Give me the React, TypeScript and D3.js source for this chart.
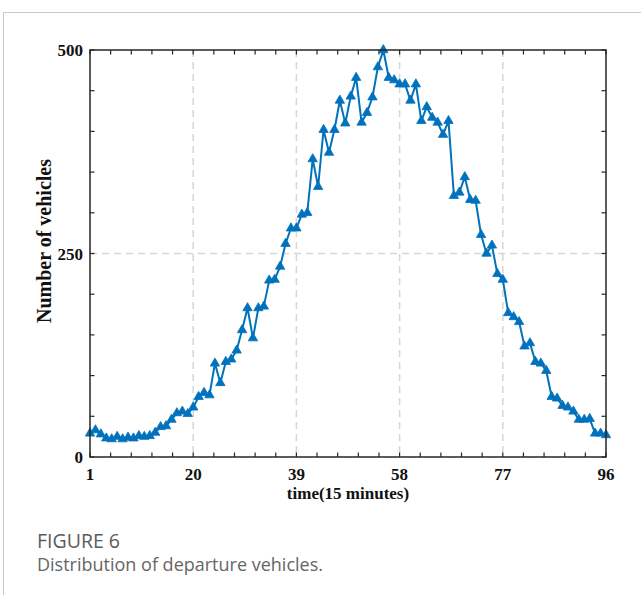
import React, { useEffect, useRef } from "react";
import * as d3 from "d3";

// Departing vehicles per 15-minute interval (96 intervals per day)
const intervals: number[] = d3.range(1, 97);
const vehicles: number[] = [
  29, 33, 28, 23, 22, 25, 22, 24, 23, 26,
  25, 26, 30, 37, 38, 46, 54, 56, 53, 61,
  74, 79, 76, 115, 91, 117, 120, 131, 156, 183,
  146, 183, 185, 217, 218, 234, 262, 281, 281, 298,
  300, 366, 332, 402, 374, 402, 438, 410, 443, 466,
  411, 423, 442, 479, 500, 466, 463, 458, 458, 438,
  458, 413, 430, 417, 411, 396, 413, 321, 325, 344,
  316, 315, 273, 250, 260, 225, 218, 177, 172, 166,
  136, 140, 117, 115, 106, 74, 72, 63, 61, 56,
  46, 46, 47, 29, 29, 27,
];
const xTicks: number[] = [1, 20, 39, 58, 77, 96];
const yTicks: number[] = [0, 250, 500];
const xGrid: number[] = [20, 39, 58, 77];
const yGrid: number[] = [250];

const W = 641;
const H = 595;
const plot = { left: 90, right: 606, top: 50, bottom: 457 };

export default function App() {
  const ref = useRef<SVGSVGElement | null>(null);

  useEffect(() => {
    const svg = d3.select(ref.current);
    svg.selectAll("*").remove();

    // card frame
    svg.append("line").attr("x1", 3.5).attr("x2", 3.5).attr("y1", 12.5).attr("y2", H)
      .attr("stroke", "#c8c8c8").attr("stroke-width", 1);
    svg.append("line").attr("x1", 3.5).attr("x2", W).attr("y1", 12.5).attr("y2", 12.5)
      .attr("stroke", "#c8c8c8").attr("stroke-width", 1);

    const x = d3.scaleLinear().domain([1, 96]).range([plot.left, plot.right]);
    const y = d3.scaleLinear().domain([0, 500]).range([plot.bottom, plot.top]);

    // grid
    const grid = svg.append("g").attr("stroke", "#d6d6d6").attr("stroke-width", 1.5)
      .attr("stroke-dasharray", "7,5");
    xGrid.forEach((v) => {
      grid.append("line").attr("x1", x(v)).attr("x2", x(v))
        .attr("y1", plot.top).attr("y2", plot.bottom);
    });
    yGrid.forEach((v) => {
      grid.append("line").attr("x1", plot.left).attr("x2", plot.right)
        .attr("y1", y(v)).attr("y2", y(v));
    });

    // minor ticks: 5 subdivisions between each labelled tick
    const xMinor: number[] = [];
    for (let i = 0; i < xTicks.length - 1; i++) {
      const a = xTicks[i], b = xTicks[i + 1];
      for (let k = 0; k < 5; k++) xMinor.push(a + ((b - a) * k) / 5);
    }
    xMinor.push(96);
    const yMinor: number[] = d3.range(0, 501, 50);

    const axisColor = "#262626";
    const tl = 4.5;
    const ticks = svg.append("g").attr("stroke", axisColor).attr("stroke-width", 1.2);
    xMinor.forEach((v) => {
      ticks.append("line").attr("x1", x(v)).attr("x2", x(v))
        .attr("y1", plot.bottom).attr("y2", plot.bottom - tl);
      ticks.append("line").attr("x1", x(v)).attr("x2", x(v))
        .attr("y1", plot.top).attr("y2", plot.top + tl);
    });
    yMinor.forEach((v) => {
      ticks.append("line").attr("x1", plot.left).attr("x2", plot.left + tl)
        .attr("y1", y(v)).attr("y2", y(v));
      ticks.append("line").attr("x1", plot.right).attr("x2", plot.right - tl)
        .attr("y1", y(v)).attr("y2", y(v));
    });

    // data line and triangle markers
    const line = d3.line<number>()
      .x((_, i) => x(intervals[i]))
      .y((d) => y(d));
    const color = "#0072BD";
    svg.append("path").datum(vehicles).attr("d", line)
      .attr("fill", "none").attr("stroke", color).attr("stroke-width", 2)
      .attr("stroke-linejoin", "round");
    const tri = d3.symbol().type(d3.symbolTriangle).size(38);
    svg.append("g").selectAll("path").data(vehicles).join("path")
      .attr("d", tri)
      .attr("transform", (d, i) => `translate(${x(intervals[i])},${y(d)})`)
      .attr("fill", color).attr("stroke", color).attr("stroke-width", 0.8);

    // box
    svg.append("rect").attr("x", plot.left).attr("y", plot.top)
      .attr("width", plot.right - plot.left).attr("height", plot.bottom - plot.top)
      .attr("fill", "none").attr("stroke", axisColor).attr("stroke-width", 1.5);

    const serif = "'Liberation Serif', 'Times New Roman', serif";
    // tick labels
    svg.append("g").selectAll("text").data(xTicks).join("text")
      .attr("x", (d) => x(d)).attr("y", plot.bottom + 23)
      .attr("text-anchor", "middle").attr("font-family", serif)
      .attr("font-weight", "bold").attr("font-size", 17).attr("fill", "#111")
      .text((d) => String(d));
    svg.append("g").selectAll("text").data(yTicks).join("text")
      .attr("x", plot.left - 7).attr("y", (d) => y(d) + 6)
      .attr("text-anchor", "end").attr("font-family", serif)
      .attr("font-weight", "bold").attr("font-size", 17).attr("fill", "#111")
      .text((d) => String(d));

    // axis titles
    svg.append("text").attr("x", (plot.left + plot.right) / 2).attr("y", plot.bottom + 42)
      .attr("text-anchor", "middle").attr("font-family", serif)
      .attr("font-weight", "bold").attr("font-size", 17).attr("fill", "#111")
      .text("time(15 minutes)");
    svg.append("text")
      .attr("transform", `translate(51,241) rotate(-90)`)
      .attr("text-anchor", "middle").attr("font-family", serif)
      .attr("font-weight", "bold").attr("font-size", 20).attr("fill", "#111")
      .text("Number of vehicles");

    // caption
    const sans = "'Open Sans', 'Noto Sans', sans-serif";
    svg.append("text").attr("x", 37).attr("y", 548)
      .attr("font-family", sans).attr("font-size", 19.5).attr("fill", "#5a5a5a")
      .attr("font-weight", 500).text("FIGURE 6");
    svg.append("text").attr("x", 37).attr("y", 571)
      .attr("font-family", sans).attr("font-size", 18).attr("fill", "#666666")
      .text("Distribution of departure vehicles.");
  }, []);

  return (
    <svg
      ref={ref}
      width={W}
      height={H}
      style={{ position: "absolute", left: 0, top: 0, background: "#fff" }}
    />
  );
}
